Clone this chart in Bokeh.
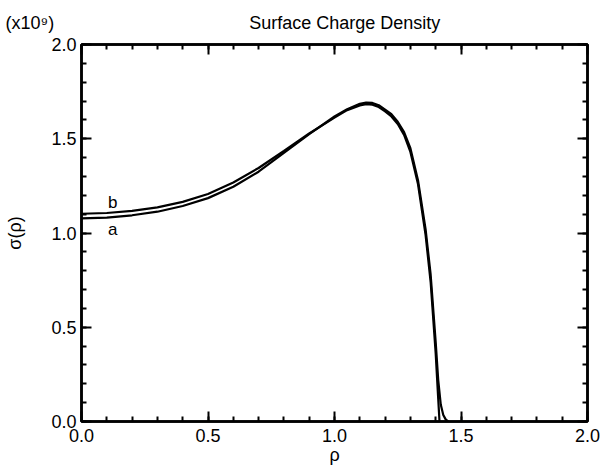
from bokeh.plotting import figure
from bokeh.models import Range1d, LinearAxis, Label, PrintfTickFormatter, SingleIntervalTicker
from bokeh.embed import file_html
from bokeh.resources import INLINE

# rho values and surface charge density (x1e9) for two cases
rho_a = [0.0, 0.1, 0.2, 0.3, 0.4, 0.5, 0.6, 0.7, 0.8, 0.9, 1.0, 1.05, 1.1, 1.125,
         1.15, 1.175, 1.2, 1.225, 1.25, 1.275, 1.3, 1.33, 1.36, 1.38, 1.40, 1.41,
         1.42, 1.43, 1.44, 1.45]
sigma_a = [1.078, 1.082, 1.094, 1.113, 1.143, 1.185, 1.245, 1.325, 1.425, 1.525,
           1.618, 1.657, 1.685, 1.692, 1.69, 1.678, 1.655, 1.63, 1.59, 1.535, 1.45,
           1.28, 1.02, 0.78, 0.42, 0.22, 0.09, 0.035, 0.01, 0.0]
rho_b = [0.0, 0.1, 0.2, 0.3, 0.4, 0.5, 0.6, 0.7, 0.8, 0.9, 1.0, 1.05, 1.1, 1.125,
         1.15, 1.175, 1.2, 1.225, 1.25, 1.275, 1.3, 1.33, 1.36, 1.38, 1.40, 1.41,
         1.415]
sigma_b = [1.102, 1.106, 1.117, 1.136, 1.165, 1.207, 1.268, 1.345, 1.435, 1.528,
           1.612, 1.652, 1.677, 1.684, 1.681, 1.668, 1.645, 1.618, 1.578, 1.52, 1.43,
           1.26, 0.99, 0.74, 0.36, 0.12, 0.0]

label_a = "a"
label_b = "b"
title_text = "Surface Charge Density"
scale_text = "(x10\u2079)"
x_label = "\u03c1"
y_label = "\u03c3(\u03c1)"

FONT = "Liberation Sans"

W, H = 615, 470
p = figure(width=W, height=H, output_backend="svg", toolbar_location=None,
           x_range=Range1d(0, 2), y_range=Range1d(0, 2),
           x_axis_location=None, y_axis_location=None,
           min_border_left=81, min_border_right=28, min_border_top=44,
           min_border_bottom=49)
p.grid.visible = False
p.outline_line_color = "black"
p.outline_line_width = 2.5
p.background_fill_color = "white"
p.border_fill_color = "white"

# scale factor and title share one header line
p.title.text = scale_text + "\u00a0" * 39 + title_text
p.title.align = "left"
p.title.offset = -76
p.title.text_font = FONT
p.title.text_font_size = "18px"
p.title.text_font_style = "normal"
p.title.text_color = "black"
p.title.vertical_align = "top"
p.title.standoff = 20


def make_axis(show_labels, axis_label=None, label_standoff=6, axis_label_standoff=0):
    ax = LinearAxis(ticker=SingleIntervalTicker(interval=0.5, num_minor_ticks=5),
                    formatter=PrintfTickFormatter(format="%.1f"))
    ax.axis_line_color = "black"
    ax.axis_line_width = 2.5
    ax.major_tick_in = 10
    ax.major_tick_out = 0
    ax.minor_tick_in = 5
    ax.minor_tick_out = 0
    ax.major_tick_line_width = 2
    ax.minor_tick_line_width = 2
    ax.major_label_text_font = FONT
    ax.major_label_text_color = "black"
    if show_labels:
        ax.major_label_text_font_size = "18px"
        ax.major_label_standoff = label_standoff
    else:
        ax.major_label_text_font_size = "0px"
        ax.major_label_standoff = 0
    if axis_label:
        ax.axis_label = axis_label
        ax.axis_label_text_font = FONT
        ax.axis_label_text_font_size = "18px"
        ax.axis_label_text_font_style = "normal"
        ax.axis_label_text_color = "black"
        ax.axis_label_standoff = axis_label_standoff
    return ax


p.add_layout(make_axis(True, x_label, label_standoff=7, axis_label_standoff=0), "below")
p.add_layout(make_axis(True, y_label, label_standoff=5, axis_label_standoff=23), "left")
p.add_layout(make_axis(False), "above")
p.add_layout(make_axis(False), "right")

p.line(rho_a, sigma_a, line_color="black", line_width=2.2)
p.line(rho_b, sigma_b, line_color="black", line_width=2.2)

p.add_layout(Label(x=0.123, y=1.16, text=label_b, text_font=FONT,
                   text_font_size="17px", text_align="center",
                   text_baseline="middle", text_color="black"))
p.add_layout(Label(x=0.123, y=1.02, text=label_a, text_font=FONT,
                   text_font_size="17px", text_align="center",
                   text_baseline="middle", text_color="black"))

open("out.html", "w").write(file_html(p, INLINE))
